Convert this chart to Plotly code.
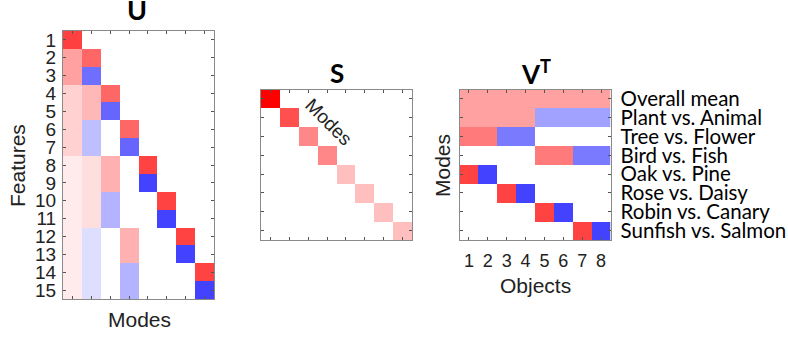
import plotly.graph_objects as go

# ---------------- data ----------------
feature_labels = [str(i) for i in range(1, 16)]
mode_index = list(range(1, 9))
object_labels = [str(i) for i in range(1, 9)]
vt_row_labels = ["Overall mean", "Plant vs. Animal", "Tree vs. Flower", "Bird vs. Fish",
                 "Oak vs. Pine", "Rose vs. Daisy", "Robin vs. Canary", "Sunfish vs. Salmon"]

u_matrix = [
    [0.75, 0.00, 0.00, 0.00, 0.00, 0.00, 0.00, 0.00],
    [0.37, 0.60, 0.00, 0.00, 0.00, 0.00, 0.00, 0.00],
    [0.37, -0.57, 0.00, 0.00, 0.00, 0.00, 0.00, 0.00],
    [0.18, 0.28, 0.60, 0.00, 0.00, 0.00, 0.00, 0.00],
    [0.18, 0.28, -0.60, 0.00, 0.00, 0.00, 0.00, 0.00],
    [0.18, -0.25, 0.00, 0.60, 0.00, 0.00, 0.00, 0.00],
    [0.18, -0.25, 0.00, -0.60, 0.00, 0.00, 0.00, 0.00],
    [0.08, 0.13, 0.31, 0.00, 0.74, 0.00, 0.00, 0.00],
    [0.08, 0.13, 0.31, 0.00, -0.74, 0.00, 0.00, 0.00],
    [0.08, 0.13, -0.30, 0.00, 0.00, 0.74, 0.00, 0.00],
    [0.08, 0.13, -0.30, 0.00, 0.00, -0.74, 0.00, 0.00],
    [0.08, -0.13, 0.00, 0.31, 0.00, 0.00, 0.74, 0.00],
    [0.08, -0.13, 0.00, 0.31, 0.00, 0.00, -0.74, 0.00],
    [0.08, -0.13, 0.00, -0.30, 0.00, 0.00, 0.00, 0.74],
    [0.08, -0.13, 0.00, -0.30, 0.00, 0.00, 0.00, -0.74],
]

s_diagonal = [1.00, 0.69, 0.47, 0.47, 0.25, 0.25, 0.25, 0.25]

vt_matrix = [
    [0.37, 0.37, 0.37, 0.37, 0.37, 0.37, 0.37, 0.37],
    [0.37, 0.37, 0.37, 0.37, -0.37, -0.37, -0.37, -0.37],
    [0.52, 0.52, -0.52, -0.52, 0.00, 0.00, 0.00, 0.00],
    [0.00, 0.00, 0.00, 0.00, 0.52, 0.52, -0.52, -0.52],
    [0.74, -0.74, 0.00, 0.00, 0.00, 0.00, 0.00, 0.00],
    [0.00, 0.00, 0.74, -0.74, 0.00, 0.00, 0.00, 0.00],
    [0.00, 0.00, 0.00, 0.00, 0.74, -0.74, 0.00, 0.00],
    [0.00, 0.00, 0.00, 0.00, 0.00, 0.00, 0.74, -0.74],
]

s_matrix = [[s_diagonal[i] if i == j else 0.0 for j in range(8)] for i in range(8)]

# ---------------- style ----------------
W, H = 788, 339
colorscale = [[0.0, "rgb(0,0,255)"], [0.5, "rgb(255,255,255)"], [1.0, "rgb(255,0,0)"]]
SANS = "Liberation Sans, Arial, sans-serif"
CAL = "Lato, sans-serif"
FRAME = "#8a8a8a"


def px_x(v):
    return v / W


def px_y(v):
    return 1 - v / H


fig = go.Figure()
common = dict(colorscale=colorscale, zmin=-1, zmax=1, showscale=False, hoverinfo="skip")
fig.add_trace(go.Heatmap(z=u_matrix, x=mode_index, y=list(range(1, 16)), xaxis="x", yaxis="y", **common))
fig.add_trace(go.Heatmap(z=s_matrix, x=mode_index, y=mode_index, xaxis="x2", yaxis="y2", **common))
fig.add_trace(go.Heatmap(z=vt_matrix, x=mode_index, y=mode_index, xaxis="x3", yaxis="y3", **common))

ax_common = dict(showline=True, linecolor=FRAME, linewidth=1, mirror="ticks", ticks="inside",
                 ticklen=3, tickcolor="#555555", tickwidth=1, showgrid=False, zeroline=False,
                 fixedrange=True, automargin=False)

fig.update_layout(
    width=W, height=H, margin=dict(l=0, r=0, t=0, b=0, autoexpand=False),
    paper_bgcolor="white", plot_bgcolor="white", showlegend=False,
    xaxis=dict(domain=[px_x(63), px_x(214)], range=[0.5, 8.5], tickvals=mode_index,
               showticklabels=False, anchor="y", **ax_common),
    yaxis=dict(domain=[px_y(299), px_y(31)], range=[15.5, 0.5], tickvals=list(range(1, 16)),
               ticktext=feature_labels, tickfont=dict(family=SANS, size=19, color="#222"),
               ticklabelstandoff=2, anchor="x", **ax_common),
    xaxis2=dict(domain=[px_x(261), px_x(412)], range=[0.5, 8.5], tickvals=mode_index,
                showticklabels=False, anchor="y2", **ax_common),
    yaxis2=dict(domain=[px_y(240), px_y(89.5)], range=[8.5, 0.5], tickvals=mode_index,
                showticklabels=False, anchor="x2", **ax_common),
    xaxis3=dict(domain=[px_x(459.5), px_x(610.5)], range=[0.5, 8.5], tickvals=mode_index,
                ticktext=object_labels, tickfont=dict(family=SANS, size=18, color="#222"),
                ticklabelstandoff=4, anchor="y3", **ax_common),
    yaxis3=dict(domain=[px_y(240), px_y(89.5)], range=[8.5, 0.5], tickvals=mode_index,
                ticktext=vt_row_labels, side="right",
                tickfont=dict(family=CAL, size=20.5, color="black"),
                ticklabelstandoff=5, anchor="x3", **ax_common),
)

ann = [
    dict(text="<b>U</b>", x=px_x(137), y=px_y(9), font=dict(family=CAL, size=27, color="black")),
    dict(text="<b>S</b>", x=px_x(337), y=px_y(73), font=dict(family=CAL, size=26, color="black")),
    dict(text="<b>V<sup>T</sup></b>", x=px_x(536), y=px_y(72), font=dict(family=CAL, size=26, color="black")),
    dict(text="Features", x=px_x(17), y=px_y(166), textangle=-90,
         font=dict(family=SANS, size=21, color="#222")),
    dict(text="Modes", x=px_x(139), y=px_y(319), font=dict(family=SANS, size=21, color="#222")),
    dict(text="Modes", x=px_x(328), y=px_y(122), textangle=45,
         font=dict(family=SANS, size=19, color="#222")),
    dict(text="Objects", x=px_x(535), y=px_y(285), font=dict(family=SANS, size=21, color="#222")),
    dict(text="Modes", x=px_x(442), y=px_y(165), textangle=-90,
         font=dict(family=SANS, size=21, color="#222")),
]
for a in ann:
    a.update(xref="paper", yref="paper", showarrow=False, xanchor="center", yanchor="middle")
fig.update_layout(annotations=ann)

fig.write_html("out.html", config={"displayModeBar": False},
               post_script="document.body.style.margin='0';document.body.style.overflow='hidden';")
